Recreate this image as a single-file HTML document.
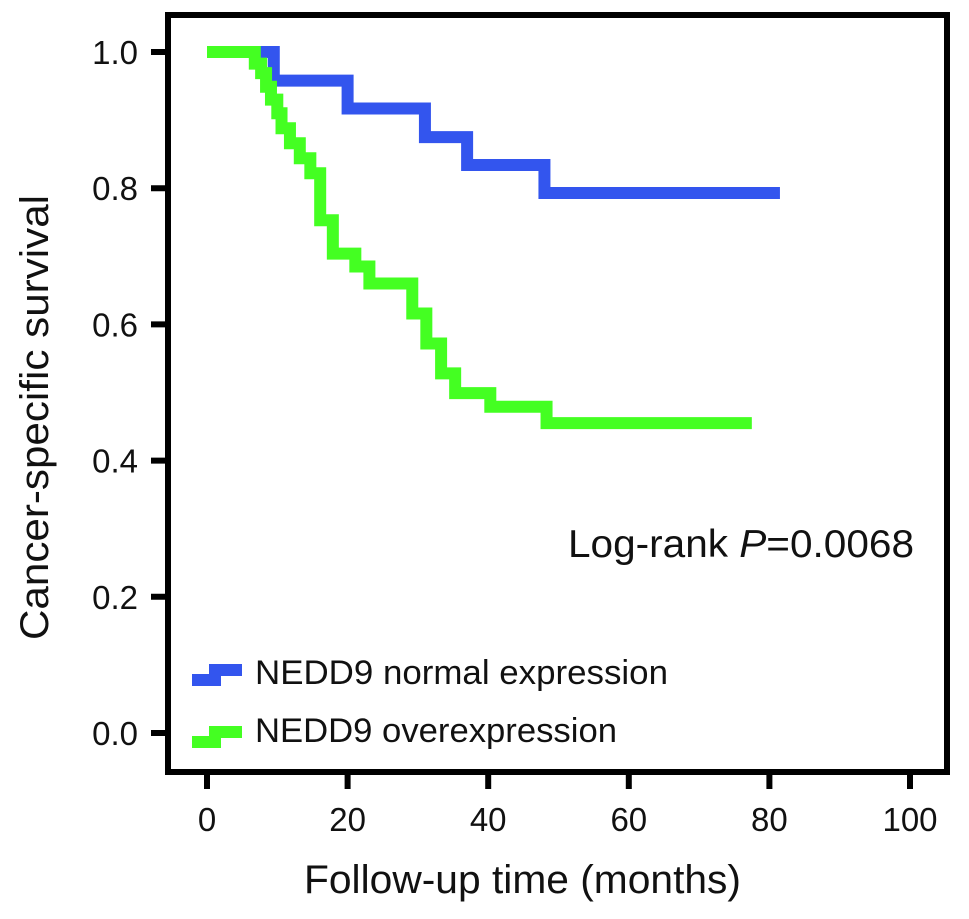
<!DOCTYPE html>
<html><head><meta charset="utf-8"><style>
body{margin:0;background:#fff;}
svg text{font-family:"Liberation Sans",Arial,sans-serif;fill:#111;}
</style></head><body>
<svg id="chart" width="969" height="914" xmlns="http://www.w3.org/2000/svg">
<rect x="168" y="15" width="779" height="757" fill="none" stroke="#000" stroke-width="6"/>
<g id="ticks"></g>
<g id="series"></g>
<text x="568" y="557" font-size="39" textLength="346" lengthAdjust="spacingAndGlyphs">Log-rank <tspan font-style="italic">P</tspan>=0.0068</text>
<g>
<path d="M192 680 H215 V670 H242" fill="none" stroke="#3355ee" stroke-width="12"/>
<text x="255" y="684" font-size="34" textLength="413" lengthAdjust="spacingAndGlyphs">NEDD9 normal expression</text>
<path d="M192 742 H215 V732 H242" fill="none" stroke="#44ff22" stroke-width="12"/>
<text x="255" y="742" font-size="34" textLength="362" lengthAdjust="spacingAndGlyphs">NEDD9 overexpression</text>
</g>
<text x="304" y="893" font-size="40" textLength="437" lengthAdjust="spacingAndGlyphs">Follow-up time (months)</text>
<text transform="translate(48,640) rotate(-90)" font-size="40" textLength="445" lengthAdjust="spacingAndGlyphs">Cancer-specific survival</text>
</svg>
<script>
const xTicks=[0,20,40,60,80,100];
const yTicks=[0,0.2,0.4,0.6,0.8,1.0];
const blueTimes=[0,9.5,20,31,37,48,81.5];
const blueSurv=[1.0,0.958,0.917,0.875,0.834,0.793,0.793];
const greenTimes=[0,6.8,7.7,8.4,9.1,10.0,10.6,11.8,13.2,14.7,16.1,17.9,21.1,23.1,29.2,31.2,33.3,35.3,40.3,48.3,77.5];
const greenSurv=[1.0,0.983,0.969,0.949,0.930,0.910,0.888,0.866,0.844,0.822,0.753,0.704,0.685,0.660,0.616,0.572,0.528,0.499,0.479,0.455,0.455];
const X=v=>207+v*7.03;
const Y=v=>733-v*681;
const NS="http://www.w3.org/2000/svg";
const tg=document.getElementById('ticks');
xTicks.forEach(t=>{
 const l=document.createElementNS(NS,'line');
 l.setAttribute('x1',X(t));l.setAttribute('x2',X(t));l.setAttribute('y1',772);l.setAttribute('y2',789);
 l.setAttribute('stroke','#000');l.setAttribute('stroke-width','6');
 
 
 tg.appendChild(l);
 const tx=document.createElementNS(NS,'text');
 tx.setAttribute('x',X(t));tx.setAttribute('y',831);tx.setAttribute('font-size','33');tx.setAttribute('text-anchor','middle');
 tx.textContent=t;
 
 
 tg.appendChild(tx);
});
yTicks.forEach(t=>{
 const l=document.createElementNS(NS,'line');
 l.setAttribute('x1',151);l.setAttribute('x2',168);l.setAttribute('y1',Y(t));l.setAttribute('y2',Y(t));
 l.setAttribute('stroke','#000');l.setAttribute('stroke-width','6');
 
 
 tg.appendChild(l);
 const tx=document.createElementNS(NS,'text');
 tx.setAttribute('x',138);tx.setAttribute('y',Y(t)+12);tx.setAttribute('font-size','33');tx.setAttribute('text-anchor','end');
 tx.textContent=t.toFixed(1);
 
 
 tg.appendChild(tx);
});
function stepPath(ts,ss){
 let d='M'+X(ts[0])+' '+Y(ss[0]);
 for(let i=1;i<ts.length;i++){d+=' H'+X(ts[i])+' V'+Y(ss[i]);}
 return d;
}
const sg=document.getElementById('series');
const pb=document.createElementNS(NS,'path');
pb.setAttribute('d',stepPath(blueTimes,blueSurv));pb.setAttribute('fill','none');pb.setAttribute('stroke','#3355ee');pb.setAttribute('stroke-width','12');


sg.appendChild(pb);
const pg=document.createElementNS(NS,'path');
pg.setAttribute('d',stepPath(greenTimes,greenSurv));pg.setAttribute('fill','none');pg.setAttribute('stroke','#44ff22');pg.setAttribute('stroke-width','12');


sg.appendChild(pg);
</script>
</body></html>
